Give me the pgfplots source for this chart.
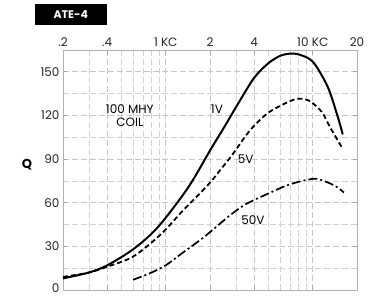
\documentclass[border=0pt]{standalone}
\usepackage{pgfplots}
\pgfplotsset{compat=1.18}
\usepackage{fontspec}
\setmainfont{Poppins}
\begin{document}
\begin{tikzpicture}
\begin{axis}[
  scale only axis,
  width=294pt, height=240pt,
  xmode=log, log basis x=10,
  xmin=0.2, xmax=20,
  ymin=0, ymax=165,
  xtick={0.2,0.4,1,2,4,10,20},
  xticklabels={.2,.4,1 KC,2,4,10 KC,20},
  minor xtick={0.3,0.5,0.6,0.7,0.8,0.9,3,5,6,7,8,9},
  ytick={0,30,60,90,120,150},
  yticklabels={\raisebox{4pt}{0},30,60,90,120,150},
  minor ytick={15,45,75,105,135,165},
  xticklabel pos=top,
  grid=both,
  major grid style={gray!45, dash pattern=on 6pt off 3pt, line width=0.8pt},
  minor grid style={gray!35, dash pattern=on 6pt off 3pt, line width=0.6pt},
  axis line style={gray!60, line width=0.8pt},
  tick style={gray!70, line width=0.8pt},
  major tick length=4pt, minor tick length=0pt,
  tick align=inside,
  ticklabel style={font=\fontsize{12}{14}\selectfont, text=black!85},
  /pgf/number format/assume math mode=true,
  clip=false,
]
% 1V
\addplot[black, line width=2pt, smooth] coordinates {
(0.2,8) (0.3,12) (0.4,17) (0.6,28) (0.88,43) (1.41,70) (2.03,97) (2.5,112) (3.1,128)
(4,146) (5,156) (6,161) (7,162.5) (8,162) (10,157) (12.6,140) (14.6,121) (16,107)
};
% 5V
\addplot[black, line width=1.8pt, dash pattern=on 5pt off 3pt, smooth] coordinates {
(0.2,9) (0.3,12) (0.4,16) (0.6,23) (0.92,38) (1.32,55) (1.93,72) (2.37,83) (2.79,92)
(3.5,106) (4,113) (5,122) (6.7,129) (8,131.5) (9.5,130) (11.5,122.5) (13.1,112) (16,97)
};
% 50V
\addplot[black, line width=1.7pt, dash pattern=on 9pt off 3pt on 2pt off 3pt, smooth] coordinates {
(0.6,7) (0.8,12) (1.0,17) (1.32,26) (1.8,36) (2.3,45) (2.79,52) (3.5,59) (4.9,66)
(6.7,72) (8.5,75) (10.5,76.5) (12.6,74) (14.5,71) (16.3,67)
};
\node[font=\fontsize{12}{13}\selectfont, align=center] at (axis cs:0.57,120) {100 MHY\\COIL};
\node[font=\fontsize{12}{14}\selectfont] at (axis cs:2.23,124.6) {1V};
\node[font=\fontsize{12}{14}\selectfont] at (axis cs:3.5,90) {5V};
\node[font=\fontsize{12}{14}\selectfont] at (axis cs:3.92,48) {50V};
\node[font=\bfseries\fontsize{13}{15}\selectfont] at (axis cs:0.114,86) {Q};
\node[fill=black, text=white, font=\bfseries\fontsize{11}{13}\selectfont, minimum width=72pt, minimum height=21pt, inner sep=0pt] at (axis cs:0.226,189.6) {ATE-4};
\end{axis}
\pgfresetboundingbox
\path[use as bounding box] ([shift={(-63pt,-7pt)}]current axis.south west) rectangle ([shift={(17pt,50pt)}]current axis.north east);
\end{tikzpicture}
\end{document}
